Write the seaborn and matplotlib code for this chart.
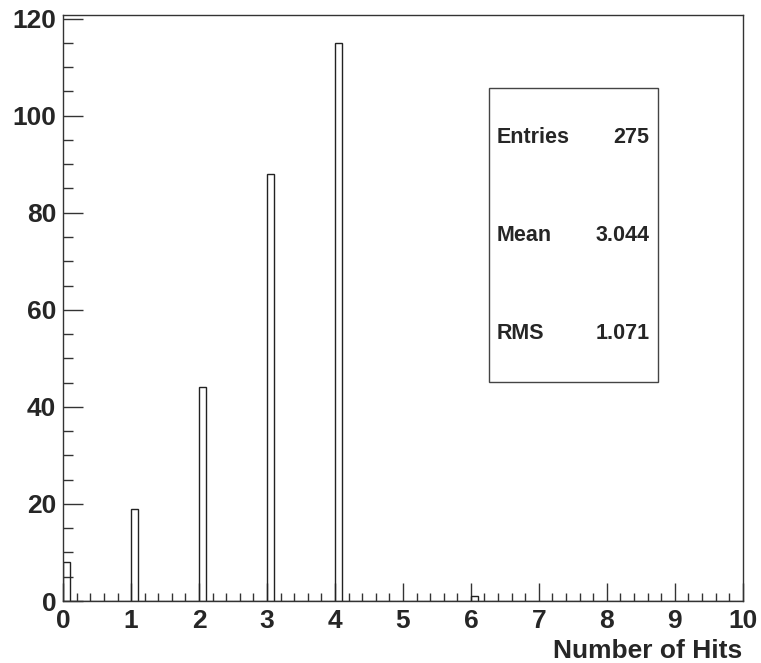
import numpy as np
import seaborn as sns
import matplotlib.pyplot as plt

# number of hits per event and how many events had that many
hits = [0, 1, 2, 3, 4, 6]
counts = [8, 19, 44, 88, 115, 1]
stat_names = ["Entries", "Mean", "RMS"]
stat_values = ["275", "3.044", "1.071"]

sns.set_style("ticks")
plt.rcParams['font.family'] = ['Liberation Sans', 'DejaVu Sans']
plt.rcParams['font.weight'] = 'bold'

fig = plt.figure(figsize=(7.61, 6.63), dpi=100)
ax = fig.add_axes([0.083, 0.0935, 0.893, 0.884])

# 100 bins of width 0.1 between 0 and 10, centres used so values fall inside
centres = np.array(hits) + 0.05
sns.histplot(x=centres, weights=counts, bins=100, binrange=(0, 10),
             fill=False, element="bars", color="#222222", linewidth=1.0, ax=ax)

ax.set_xlim(0, 10)
ax.set_ylim(0, 120.75)
ax.set_xticks(range(0, 11))
ax.set_xticks(np.arange(0, 10.01, 0.2), minor=True)
ax.set_yticks(range(0, 121, 20))
ax.set_yticks(range(0, 121, 5), minor=True)
ax.tick_params(axis='both', which='both', direction='in', color='#333333',
               top=False, right=False)
ax.tick_params(axis='x', which='major', length=13, width=1, labelsize=19, pad=6)
ax.tick_params(axis='x', which='minor', length=6, width=1)
ax.tick_params(axis='y', which='major', length=14.5, width=1, labelsize=19, pad=5)
ax.tick_params(axis='y', which='minor', length=7, width=1)
for lab in ax.get_xticklabels() + ax.get_yticklabels():
    lab.set_fontweight('bold')
for sp in ax.spines.values():
    sp.set_visible(True)
    sp.set_color('#333333')
    sp.set_linewidth(1.0)

ax.set_ylabel("")
ax.set_xlabel("Number of Hits", fontsize=19, fontweight='bold', loc='right', labelpad=4)

# statistics box
box = plt.Rectangle((0.626, 0.374), 0.25, 0.501, transform=ax.transAxes,
                    fill=True, facecolor='white', edgecolor='#444444', linewidth=1.0)
ax.add_patch(box)
rows_y = [0.790, 0.623, 0.457]
for name, val, y in zip(stat_names, stat_values, rows_y):
    ax.text(0.638, y, name, transform=ax.transAxes, fontsize=15.5,
            fontweight='bold', va='center', ha='left')
    ax.text(0.863, y, val, transform=ax.transAxes, fontsize=15.5,
            fontweight='bold', va='center', ha='right')

fig.savefig("out.png", dpi=100)
